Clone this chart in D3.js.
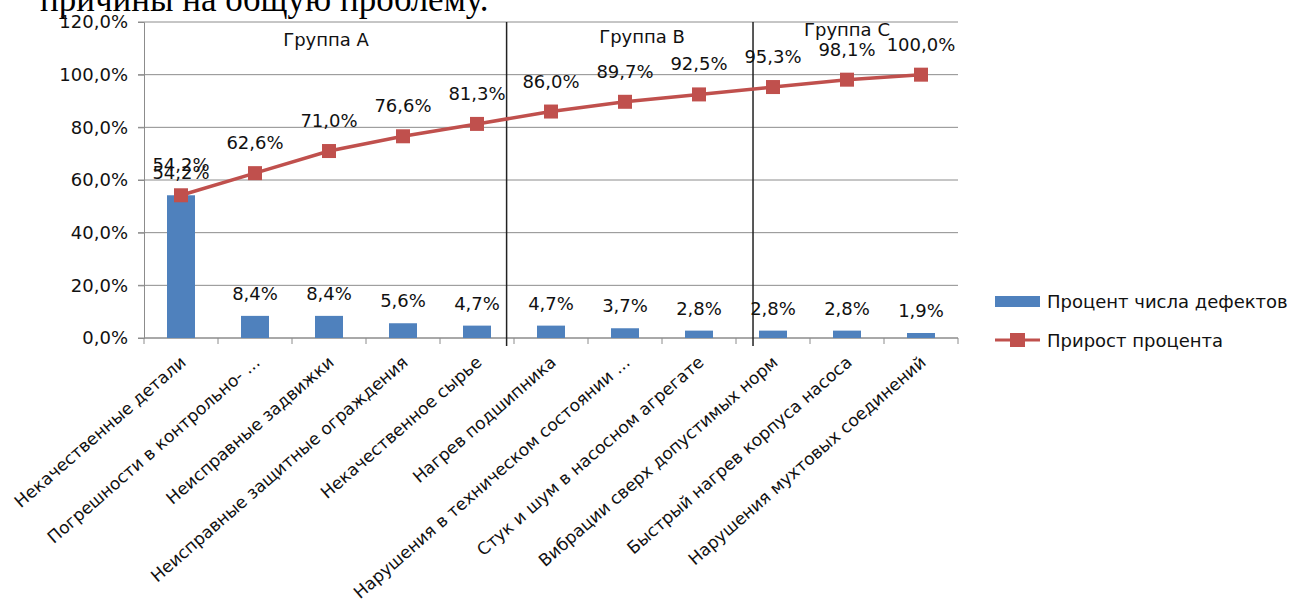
<!DOCTYPE html>
<html>
<head>
<meta charset="utf-8">
<script src="https://cdn.jsdelivr.net/npm/d3@7"></script>
<style>
  body { margin: 0; background: #fff; }
  text { font-family: "DejaVu Sans", sans-serif; fill: #111; }
</style>
</head>
<body>
<svg id="chart" width="1294" height="610"></svg>
<script>
// categories and values
var categories = ["Некачественные детали", "Погрешности в контрольно- ...", "Неисправные задвижки",
  "Неисправные защитные ограждения", "Некачественное сырье", "Нагрев подшипника",
  "Нарушения в техническом состоянии ...", "Стук и шум в насосном агрегате",
  "Вибрации сверх допустимых норм", "Быстрый нагрев корпуса насоса", "Нарушения мухтовых соединений"];
var defectShare = [0.542, 0.084, 0.084, 0.056, 0.047, 0.047, 0.037, 0.028, 0.028, 0.028, 0.019];
var cumulative = [0.542, 0.626, 0.710, 0.766, 0.813, 0.860, 0.897, 0.925, 0.953, 0.981, 1.000];
var yTicks = [0, 0.2, 0.4, 0.6, 0.8, 1.0, 1.2];
var groupNames = ["Группа А", "Группа В", "Группа С"];
var seriesNames = ["Процент числа дефектов", "Прирост процента"];

var barColour = "#4F81BD", lineColour = "#C0504D", gridColour = "#8c8c8c";

var svg = d3.select("#chart");
var locale = d3.formatLocale({decimal: ",", thousands: " ", grouping: [3], currency: ["", ""]});
var pct = locale.format(".1%");

// cropped heading from the page above the chart
svg.append("text").attr("x", 40).attr("y", 11)
  .style("font-family", "'Liberation Serif', serif").style("font-size", "35px").style("fill", "#000")
  .text("причины на общую проблему.");

var plotLeft = 144, plotRight = 958, plotTop = 22, plotBottom = 338;
var yScale = d3.scaleLinear().domain([0, 1.2]).range([plotBottom, plotTop]);
var xScale = d3.scalePoint().domain(categories).range([plotLeft, plotRight]).padding(0.5);
// category units -> pixels, used for group separators and headings
var xUnits = d3.scaleLinear().domain([0, categories.length]).range([plotLeft, plotRight]);

// gridlines
svg.append("g").selectAll("line").data(yTicks).enter().append("line")
  .attr("x1", plotLeft - 6).attr("x2", plotRight)
  .attr("y1", d => yScale(d)).attr("y2", d => yScale(d))
  .attr("stroke", gridColour).attr("stroke-width", 1);

// y axis
var yAxis = svg.append("g").attr("transform", "translate(" + plotLeft + ",0)")
  .call(d3.axisLeft(yScale).tickValues(yTicks).tickFormat(pct).tickSize(6).tickPadding(10));
yAxis.select(".domain").attr("stroke", gridColour);
yAxis.selectAll(".tick line").attr("stroke", gridColour);
yAxis.selectAll("text").style("font-size", "18px").style("font-family", "'DejaVu Sans', sans-serif").attr("fill", "#111");

// x axis line and ticks at band edges
svg.append("line").attr("x1", plotLeft).attr("x2", plotRight).attr("y1", plotBottom).attr("y2", plotBottom)
  .attr("stroke", gridColour);
svg.append("g").selectAll("line").data(d3.range(categories.length + 1)).enter().append("line")
  .attr("x1", d => xUnits(d)).attr("x2", d => xUnits(d))
  .attr("y1", plotBottom).attr("y2", plotBottom + 6).attr("stroke", gridColour);

// group separators and headings
var groupBounds = [4.9, 8.23];
var groupCentres = [2.46, 6.73, 9.5];
var groupBaselines = [46, 43, 36];
svg.append("g").selectAll("line").data(groupBounds).enter().append("line")
  .attr("x1", d => xUnits(d)).attr("x2", d => xUnits(d))
  .attr("y1", plotTop).attr("y2", plotBottom + 8)
  .attr("stroke", "#222").attr("stroke-width", 1.5);
svg.append("g").selectAll("text").data(groupNames).enter().append("text")
  .attr("x", (d, i) => xUnits(groupCentres[i])).attr("y", (d, i) => groupBaselines[i])
  .attr("text-anchor", "middle").style("font-size", "18px").text(d => d);

// bars
var barW = 28;
svg.append("g").selectAll("rect").data(defectShare).enter().append("rect")
  .attr("x", (d, i) => xScale(categories[i]) - barW / 2)
  .attr("y", d => yScale(d))
  .attr("width", barW).attr("height", d => plotBottom - yScale(d))
  .attr("fill", barColour);

svg.append("g").selectAll("text").data(defectShare).enter().append("text")
  .attr("x", (d, i) => xScale(categories[i]))
  .attr("y", d => yScale(d) - 16)
  .attr("text-anchor", "middle").style("font-size", "18px")
  .text(d => pct(d));

// cumulative line
var line = d3.line().x((d, i) => xScale(categories[i])).y(d => yScale(d));
svg.append("path").datum(cumulative).attr("d", line)
  .attr("fill", "none").attr("stroke", lineColour).attr("stroke-width", 3.5);
svg.append("g").selectAll("rect").data(cumulative).enter().append("rect")
  .attr("x", (d, i) => xScale(categories[i]) - 7).attr("y", d => yScale(d) - 7)
  .attr("width", 14).attr("height", 14).attr("fill", lineColour);
svg.append("g").selectAll("text").data(cumulative).enter().append("text")
  .attr("x", (d, i) => xScale(categories[i]))
  .attr("y", d => yScale(d) - 24)
  .attr("text-anchor", "middle").style("font-size", "18px")
  .text(d => pct(d));

// category labels, rotated
svg.append("g").selectAll("text").data(categories).enter().append("text")
  .attr("transform", d => "translate(" + (xScale(d) + 6) + "," + (plotBottom + 26) + ") rotate(-41)")
  .attr("text-anchor", "end").style("font-size", "17px")
  .text(d => d);

// legend
var leg = svg.append("g").attr("transform", "translate(995,296)");
leg.append("rect").attr("x", 0).attr("y", 0).attr("width", 45).attr("height", 11).attr("fill", barColour);
leg.append("text").attr("x", 52).attr("y", 12).style("font-size", "18px").text(seriesNames[0]);
leg.append("line").attr("x1", 0).attr("x2", 45).attr("y1", 44).attr("y2", 44)
  .attr("stroke", lineColour).attr("stroke-width", 3);
leg.append("rect").attr("x", 15).attr("y", 37).attr("width", 15).attr("height", 14).attr("fill", lineColour);
leg.append("text").attr("x", 52).attr("y", 51).style("font-size", "18px").text(seriesNames[1]);
</script>
</body>
</html>
